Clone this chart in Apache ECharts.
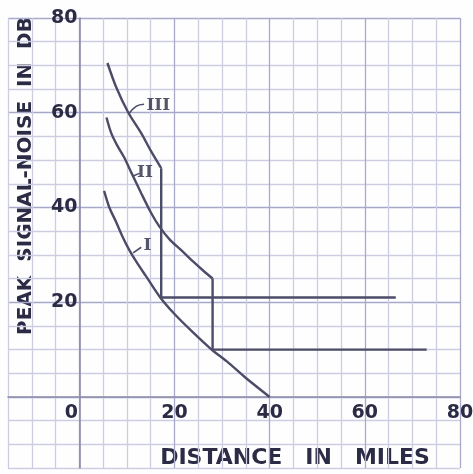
<!DOCTYPE html>
<html><head><meta charset="utf-8">
<script src="https://cdn.jsdelivr.net/npm/echarts@6/dist/echarts.min.js"></script>
<style>html,body{margin:0;padding:0;background:#fff}#c{width:473px;height:474px}</style>
</head><body><div id="c"></div>
<script>
// Curves (x: miles, y: dB)
const curveI = [[5.2,43.5],[6.3,40],[7.7,37],[9,34],[10.5,31],[12,28.5],[14,25.5],[17,21],[20,17.5],[23.5,14],[27.8,10],[31,7.5],[35,4],[40,0]];
const curveII = [[5.7,59],[6.7,55.7],[8,53],[9.4,50.6],[11,47.2],[13,43],[15,39],[16.8,36],[19,33.2],[21.4,31],[24,28.5],[26,26.7],[28,25]];
const curveIII = [[5.9,70.5],[7.7,65.5],[10.3,60],[13,55.7],[15,52],[17.2,48.3]];
const stepII = [[28,25],[28,10],[73,10]];
const stepIII = [[17.2,48.3],[17.2,21],[66.5,21]];
const curveNames = ['I','II','III'];
const namePos = [[14.3,32],[13.8,47.3],[16.6,61.5]];
const leaderI = [[11.3,30.4],[13,31.6]];
const leaderII = [[11.2,46.6],[12.6,47.2]];
const leaderIII = [[10.3,59.7],[12,61.4],[13.6,61.8]];
const xTickLabels = [0,20,40,60,80];
const yTickLabels = [20,40,60,80];
const xTitle = 'DISTANCE   IN   MILES';
const yTitle = 'PEAK  SIGNAL-NOISE  IN  DB';

const ink = '#2b2b45';
const stroke = '#4c4c68';
const minor = '#cdcde2';
const major = '#a8a8c9';
const font = 'DejaVu Sans';

const W = 473, H = 474;
const G = {left:8, right:13, top:18, bottom:6};
const xMin = -15, xMax = 80, yMin = -15, yMax = 80;
// shift the axes from the grid edges to the zero lines
const xOff = (0 - xMin) / (xMax - xMin) * (W - G.left - G.right);
const yOff = (0 - yMin) / (yMax - yMin) * (H - G.top - G.bottom);

const chart = echarts.init(document.getElementById('c'), null, {renderer:'canvas'});
const lineS = (data, smooth, w) => ({type:'line', data, smooth, symbol:'none', lineStyle:{color:stroke, width:w||2.4}, z:5});
chart.setOption({
  backgroundColor:'#fefeff',
  animation:false,
  grid:{left:G.left, right:G.right, top:G.top, bottom:G.bottom, show:false, containLabel:false, outerBoundsMode:'none'},
  xAxis:{type:'value', min:xMin, max:xMax, interval:5, position:'bottom', offset:-yOff,
    axisLine:{onZero:false, lineStyle:{color:'#8c8cab', width:1.6}},
    axisTick:{show:false},
    splitLine:{show:true, lineStyle:{color:[minor,minor,minor,major], width:1.3}},
    axisLabel:{margin:7, color:ink, fontSize:19, fontWeight:'bold', fontFamily:font, hideOverlap:false,
      formatter:v => xTickLabels.indexOf(v) < 0 ? '' : (v === 0 ? '{z|0}' : String(v)),
      rich:{z:{padding:[0,16,0,0], color:ink, fontSize:19, fontWeight:'bold', fontFamily:font}}}
  },
  yAxis:{type:'value', min:yMin, max:yMax, interval:5, position:'left', offset:-xOff,
    axisLine:{onZero:false, lineStyle:{color:'#8c8cab', width:1.6}},
    axisTick:{show:false},
    splitLine:{show:true, lineStyle:{color:[minor,minor,minor,major], width:1.3}},
    axisLabel:{margin:2, color:ink, fontSize:19, fontWeight:'bold', fontFamily:font, hideOverlap:false,
      formatter:v => yTickLabels.indexOf(v) < 0 ? '' : String(v)}
  },
  graphic:[
    {type:'text', x:26, y:176, rotation:Math.PI/2, style:{text:yTitle, fill:ink, font:'bold 20px "DejaVu Sans"', align:'center', verticalAlign:'middle'}},
    {type:'text', x:295, y:458, style:{text:xTitle, fill:ink, font:'bold 22px "DejaVu Sans"', align:'center', verticalAlign:'middle'}}
  ],
  series:[
    lineS(curveI, 0.3), lineS(curveII, 0.3), lineS(curveIII, 0.3),
    lineS(stepII, false), lineS(stepIII, false),
    lineS(leaderI, false, 1.6), lineS(leaderII, false, 1.6), lineS(leaderIII, 0.4, 1.6),
    {type:'scatter', symbolSize:0, z:6,
      data:curveNames.map((n,i) => ({name:n, value:namePos[i]})),
      label:{show:true, position:'inside', formatter:p => p.name, color:ink, fontSize:17, fontWeight:'bold', fontFamily:'DejaVu Serif'}}
  ]
});
</script></body></html>
